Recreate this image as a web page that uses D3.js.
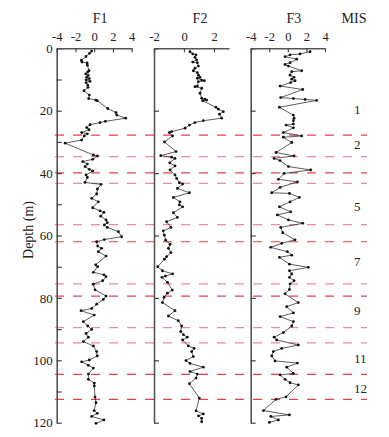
<!DOCTYPE html>
<html><head><meta charset="utf-8">
<script src="https://cdn.jsdelivr.net/npm/d3@7"></script>
<style>
body{margin:0;background:#fff;}
text{font-family:"Liberation Serif","Times New Roman",serif;fill:#222;}
</style></head>
<body><svg id="c" width="389" height="437"></svg>
<script>
// ---- data ----
const f1Depth=[0.9,1.6,2.6,3.9,4.4,4.7,5.4,7.2,7.6,8.2,8.7,9.3,9.7,10.1,10.6,11.0,11.8,12.5,13.6,15.0,16.1,16.6,16.8,19.3,20.6,21.4,22.4,23.4,23.8,24.5,25.4,26.1,27.0,27.4,28.1,29.4,30.4,34.2,34.5,35.6,36.3,37.1,37.9,38.8,39.3,40.6,41.4,43.0,43.6,45.1,46.7,48.1,49.2,51.1,52.1,52.6,53.8,55.0,55.9,56.6,57.4,58.8,60.4,61.3,62.0,63.4,64.1,65.2,66.6,69.4,70.0,71.8,72.6,73.2,74.5,75.6,77.4,79.4,80.5,82.0,83.4,84.1,85.5,87.6,89.0,90.1,91.4,92.6,94.0,95.4,97.2,98.6,99.9,100.5,101.6,102.5,104.4,106.1,107.3,108.2,111.8,113.6,116.1,117.0,118.0,119.1,120.2];
const f1Value=[-0.27,-0.5,-0.87,-1.37,-1.3,-0.75,-0.73,-0.55,-0.69,-0.9,-0.63,-0.8,-0.52,-0.87,-0.44,-0.87,-0.69,-0.66,-1.09,-0.52,-0.59,0.16,0.33,1.44,2.33,2.4,3.36,1.19,0.62,-0.45,-0.8,-0.55,-1.34,-0.73,-1.05,-1.34,-3.1,-0.09,0.34,-0.16,-1.22,-0.73,-0.98,-0.52,-0.16,-0.87,-0.73,-0.98,0.73,0.34,0.26,-0.27,0.44,-0.16,0.62,1.04,0.69,1.26,1.4,1.08,1.4,2.58,2.93,1.08,0.26,0.37,0.79,0.44,1.26,0.16,0.37,-0.09,1.04,1.26,0.9,-0.09,0.09,1.26,0.98,0.26,-0.27,-1.4,0.01,-1.16,-0.69,-0.27,-0.87,-0.62,-1.16,-0.09,0.26,0.33,-0.52,-1.34,-0.62,-0.09,-0.62,-0.62,0.01,0.01,0.09,0.19,-0.01,0.33,-0.27,1.04,0.19];
const f2Depth=[1.1,1.8,2.1,2.9,3.7,4.4,4.6,5.7,6.4,7.2,7.8,8.6,9.3,9.6,10.2,10.4,10.7,12.1,12.3,12.8,14.4,16.0,16.3,16.6,16.8,18.9,19.5,20.3,21.1,22.4,23.2,23.8,24.6,25.6,26.7,27.0,28.1,30.0,33.1,34.4,34.9,35.3,36.7,37.7,39.0,40.6,41.7,43.1,43.5,44.9,46.3,47.8,49.2,50.2,50.8,52.7,54.2,55.6,57.4,58.5,59.9,61.5,62.8,64.1,65.5,66.8,67.6,70.0,71.3,72.3,73.0,73.4,75.0,77.5,78.5,79.8,81.5,84.1,85.8,87.3,89.0,90.8,91.8,92.6,93.5,95.4,96.2,97.2,98.8,100.1,101.0,102.2,103.6,104.4,105.7,107.5,112.1,116.2,117.2,117.8,118.6,119.7];
const f2Value=[0.4,0.58,0.8,0.73,0.84,0.58,0.89,0.96,0.73,0.62,0.89,0.96,1.07,0.89,1.18,1.36,0.96,0.89,0.73,1.18,1.07,1.18,1.4,1.51,1.24,2.13,2.29,2.62,2.36,2.51,1.29,0.73,0.36,0.07,-0.82,-0.98,-0.76,-1.3,-0.53,-1.55,-0.82,-0.6,-0.95,-0.6,-0.93,-0.6,-0.49,-0.31,-0.09,-0.44,0.36,-0.71,-0.27,-0.31,-0.09,-0.71,-0.44,-1.16,-0.87,-1.38,-1.31,-1.22,-0.93,-1.04,-0.87,-1.16,-1.31,-1.75,-1.44,-0.76,-1.24,-1.47,-1.1,-0.78,-1.11,-1.33,-1.44,-0.6,-1.04,-0.38,-0.16,-0.22,-0.04,0.22,-0.09,0.29,0.67,0.51,0.62,0.13,0.4,1.29,0.4,0.89,0.8,0.36,1.02,0.8,1.29,0.96,1.18,1.18];
const f3Depth=[1.1,1.8,2.1,2.7,3.5,4.6,5.2,5.7,7.2,7.5,8.6,9.3,9.9,10.4,11.0,12.1,13.2,15.8,16.1,16.4,16.7,18.9,21.4,22.4,23.2,24.3,24.6,25.5,27.0,28.1,28.5,30.2,33.4,34.5,35.3,36.0,37.9,39.0,40.1,42.0,42.8,44.6,46.3,46.5,47.8,49.2,50.8,52.4,53.4,55.0,56.1,57.4,59.1,61.4,62.5,63.8,65.2,66.3,67.0,69.2,70.2,71.3,72.3,73.4,74.5,75.5,77.3,78.7,81.5,82.8,84.8,86.0,87.6,89.0,91.1,92.6,93.5,95.1,96.2,97.2,98.6,100.2,100.9,102.2,104.2,104.7,106.1,107.2,107.9,111.7,112.5,116.1,117.5,118.0,119.1,119.9];
const f3Value=[2.39,1.31,0.24,-0.3,0.95,0.24,-0.3,0.06,1.49,0.42,0.24,0.67,0.42,0.78,0.3,-0.84,1.6,-0.77,0.59,1.85,3.1,-0.91,0.59,0.67,0.6,0.59,-0.19,0.6,-0.48,1.49,-0.48,0.42,-1.27,0.67,-1.48,-0.84,0.06,2.46,-0.41,-1.02,1.03,-0.84,-1.74,0.17,1.24,0.24,-0.91,0.31,-1.13,0.06,1.6,-0.77,-0.55,0.77,-0.66,-1.85,-0.05,0.42,-0.91,0.17,2.21,0.17,0.42,0.17,0.67,0.24,0.17,-0.3,1.13,-0.12,0.6,-0.84,0.6,0.42,-0.48,-1.48,-1.2,1.13,-0.66,-1.56,-1.74,-1.38,1.03,-0.12,0.59,-0.84,-0.3,0.24,1.13,-0.19,-1.27,-2.63,0.17,-1.84,-1.02,-1.99];
const seriesNames=["F1","F2","F3"];
const f1Ticks=[-4,-2,0,2,4], f2Ticks=[-2,0,2], f3Ticks=[-4,-2,0,2,4];
const misBoundaries=[27.8,34.7,39.9,43.3,56.5,62.0,75.5,79.4,89.5,94.4,104.5,112.5];
const misLabels=["1","2","5","7","9","11","12"];
const misLabelDepth=[19.5,30.7,50.7,68.2,84.0,99.3,109.0];
const depthLabelTicks=[0,20,40,60,80,100,120];

// ---- drawing ----
const svg=d3.select("#c");
const y=d3.scaleLinear().domain([0,120]).range([48.3,422.7]);
const panels=[
 {name:seriesNames[0],depth:f1Depth,val:f1Value,x:d3.scaleLinear().domain([-4,4]).range([56.7,131.7]),ticks:f1Ticks,yTicks:d3.range(0,121,10),labels:true},
 {name:seriesNames[1],depth:f2Depth,val:f2Value,x:d3.scaleLinear().domain([-2,3]).range([154,229]),ticks:f2Ticks,yTicks:d3.range(0,121,20),labels:false},
 {name:seriesNames[2],depth:f3Depth,val:f3Value,x:d3.scaleLinear().domain([-4,4]).range([250.7,325]),ticks:f3Ticks,yTicks:d3.range(0,121,20),labels:false}
];
const light=new Set([1,3,4,6,8,9]);
// MIS dashed lines
svg.append("g").selectAll("line").data(misBoundaries).join("line")
 .attr("x1",55).attr("x2",367).attr("y1",d=>y(d)).attr("y2",d=>y(d))
 .attr("stroke",(d,i)=>light.has(i)?"#f08a96":"#e8404f")
 .attr("stroke-width",1.2).attr("stroke-dasharray","9,9");

panels.forEach(p=>{
 const x0=p.x.range()[0];
 // left axis
 const ya=d3.axisLeft(y).tickValues(p.yTicks).tickSizeInner(-5).tickSizeOuter(0).tickPadding(4)
   .tickFormat(d=>p.labels && depthLabelTicks.includes(d)?d:"");
 const gy=svg.append("g").attr("transform",`translate(${x0},0)`).call(ya);
 gy.select(".domain").attr("stroke","#555").attr("stroke-width",1.6);
 gy.selectAll(".tick line").attr("stroke","#444").attr("stroke-width",1.2);
 gy.selectAll("text").attr("font-size",13).attr("font-family","Liberation Serif").attr("fill","#222");
 // top axis
 const xa=d3.axisTop(p.x).tickValues(p.ticks).tickSizeInner(-4).tickSizeOuter(0).tickPadding(7).tickFormat(d3.format("d"));
 const gx=svg.append("g").attr("transform",`translate(0,${y(0)})`).call(xa);
 gx.select(".domain").attr("stroke","#555").attr("stroke-width",1.6);
 gx.selectAll(".tick line").attr("stroke","#444").attr("stroke-width",1.2);
 gx.selectAll("text").attr("font-size",12.5).attr("font-family","Liberation Serif").attr("fill","#222").text(d=>d<0?"-"+Math.abs(d):d);
 // title
 const xm=(p.x.range()[0]+p.x.range()[1])/2;
 svg.append("text").attr("x",p.x(0)+ (p.name==="F1"?6:p.name==="F2"?16:6)).attr("y",22.5).attr("text-anchor","middle").attr("font-size",14).text(p.name);
 // series
 const pts=p.depth.map((d,i)=>[p.x(p.val[i]),y(d)]);
 svg.append("path").attr("d",d3.line()(pts)).attr("fill","none").attr("stroke","#333").attr("stroke-width",0.8);
 svg.append("g").selectAll("circle").data(pts).join("circle")
  .attr("cx",d=>d[0]).attr("cy",d=>d[1]).attr("r",1.4).attr("fill","#111");
});
// MIS column
svg.append("text").attr("x",354).attr("y",22.5).attr("text-anchor","middle").attr("font-size",14).text("MIS");
svg.append("g").selectAll("text").data(misLabels).join("text")
 .attr("x",354).attr("y",(d,i)=>y(misLabelDepth[i])).attr("dy","0.35em").attr("font-size",13).text(d=>d);
// y title
svg.append("text").attr("transform","translate(28,230) rotate(-90)").attr("text-anchor","middle").attr("dy","0.35em").attr("font-size",14).text("Depth (m)");
</script></body></html>
